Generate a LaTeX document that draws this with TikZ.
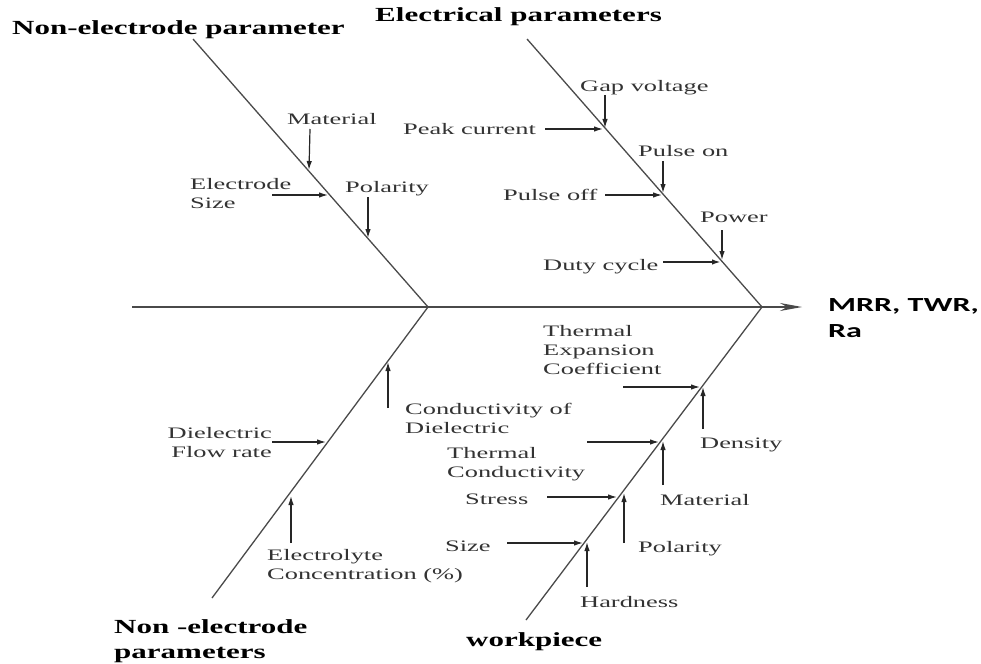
\documentclass[tikz,border=0pt]{standalone}
\usepackage{fontspec}
\setmainfont{Liberation Serif}
\newfontfamily\lblfont[FakeStretch=1.65]{Liberation Serif}
\newfontfamily\headfont[FakeStretch=1.55]{Liberation Serif}
\newfontfamily\outfont[FakeStretch=1.6]{Carlito}
\usetikzlibrary{arrows.meta}
\definecolor{bonegray}{HTML}{4A4A4A}
\definecolor{textgray}{HTML}{333333}

\begin{document}
\begin{tikzpicture}[x=1pt, y=-1pt,
    bone/.style={draw=bonegray, line width=1.3pt},
    cause/.style={draw=black!85, line width=1.2pt, -{Latex[length=9pt,width=5.5pt]}},
    lbl/.style={font=\lblfont\fontsize{16}{19}\selectfont, text=textgray, inner sep=0pt, anchor=north west, align=left},
    head/.style={font=\headfont\bfseries\fontsize{20}{25}\selectfont, inner sep=0pt, anchor=north west, align=left},
]
% 1 unit = 1 px of the 981x663 frame, y going down
\useasboundingbox (0,0) rectangle (981,663);
% Spine and bones
\coordinate (tail) at (132,307); \coordinate (effect) at (802,307);
\coordinate (j1) at (428,307); \coordinate (j2) at (762,307);
\coordinate (ulTop) at (193,39); \coordinate (urTop) at (527,39);
\coordinate (llEnd) at (212,598); \coordinate (lrEnd) at (526,620);
\draw[bone, -{Stealth[length=22pt,width=8pt]}] (tail) -- (effect);
\draw[bone] (ulTop) -- (j1);
\draw[bone] (urTop) -- (j2);
\draw[bone] (j1) -- (llEnd);
\draw[bone] (j2) -- (lrEnd);
% Category titles
\node[head] (nonElecUp) at (12,20) {Non-electrode parameter};
\node[head] (elec) at (375,7) {Electrical parameters};
\node[head] (nonElecLow) at (114,619) {Non -electrode\\parameters};
\node[head] (work) at (466,632) {workpiece};
\node[head, font=\outfont\bfseries\fontsize{20}{26}\selectfont] (out) at (828,298) {MRR, TWR,\\Ra};
% Non-electrode parameter (upper left)
\node[lbl] (matA) at (287,113) {Material};
\node[lbl] (esize) at (190,178) {Electrode\\Size};
\node[lbl] (polA) at (345,181) {Polarity};
\coordinate (matAt) at (310,129); \coordinate (matAh) at (309,170);
\coordinate (esizet) at (272,195); \coordinate (esizeh) at (328,195);
\coordinate (polAt) at (368,197); \coordinate (polAh) at (368,238);
\draw[cause] (matAt) -- (matAh);
\draw[cause] (esizet) -- (esizeh);
\draw[cause] (polAt) -- (polAh);
% Electrical parameters (upper right)
\node[lbl] (gap) at (580,80) {Gap voltage};
\node[lbl] (peak) at (403,123) {Peak current};
\node[lbl] (pon) at (638,145) {Pulse on};
\node[lbl] (poff) at (503,189) {Pulse off};
\node[lbl] (pow) at (700,212) {Power};
\node[lbl] (duty) at (543,259) {Duty cycle};
\coordinate (gapt) at (605,95); \coordinate (gaph) at (605,128);
\coordinate (peakt) at (545,129); \coordinate (peakh) at (603,129);
\coordinate (pont) at (663,161); \coordinate (ponh) at (663,193);
\coordinate (pofft) at (605,195); \coordinate (poffh) at (662,195);
\coordinate (powt) at (722,230); \coordinate (powh) at (722,260);
\coordinate (dutyt) at (663,262); \coordinate (dutyh) at (721,262);
\draw[cause] (gapt) -- (gaph);
\draw[cause] (peakt) -- (peakh);
\draw[cause] (pont) -- (ponh);
\draw[cause] (pofft) -- (poffh);
\draw[cause] (powt) -- (powh);
\draw[cause, line width=2.4pt] (dutyt) -- (dutyh);
% Non -electrode parameters (lower left)
\node[lbl] (cond) at (405,403) {Conductivity of\\Dielectric};
\node[lbl, anchor=north east, align=right] (flow) at (272,427) {Dielectric\\Flow rate};
\node[lbl] (elyte) at (267,549) {Electrolyte\\Concentration (\%)};
\coordinate (condt) at (388,408); \coordinate (condh) at (388,362);
\coordinate (flowt) at (272,442); \coordinate (flowh) at (326,442);
\coordinate (elytet) at (291,543); \coordinate (elyteh) at (291,496);
\draw[cause] (condt) -- (condh);
\draw[cause] (flowt) -- (flowh);
\draw[cause] (elytet) -- (elyteh);
% workpiece (lower right)
\node[lbl] (texp) at (543,325) {Thermal\\Expansion\\Coefficient};
\node[lbl] (dens) at (700,438) {Density};
\node[lbl] (tcond) at (447,447) {Thermal\\Conductivity};
\node[lbl] (matB) at (660,494) {Material};
\node[lbl] (stress) at (465,494) {Stress};
\node[lbl] (polB) at (638,541) {Polarity};
\node[lbl] (size) at (445,541) {Size};
\node[lbl] (hard) at (580,596) {Hardness};
\coordinate (texpt) at (623,387); \coordinate (texph) at (700,387);
\coordinate (denst) at (703,429); \coordinate (densh) at (703,387);
\coordinate (tcondt) at (587,442); \coordinate (tcondh) at (659,442);
\coordinate (matBt) at (663,485); \coordinate (matBh) at (663,441);
\coordinate (stresst) at (547,497); \coordinate (stressh) at (617,497);
\coordinate (polBt) at (624,543); \coordinate (polBh) at (624,493);
\coordinate (sizet) at (507,543); \coordinate (sizeh) at (583,543);
\coordinate (hardt) at (587,587); \coordinate (hardh) at (587,542);
\draw[cause] (texpt) -- (texph);
\draw[cause] (denst) -- (densh);
\draw[cause] (tcondt) -- (tcondh);
\draw[cause] (matBt) -- (matBh);
\draw[cause] (stresst) -- (stressh);
\draw[cause] (polBt) -- (polBh);
\draw[cause] (sizet) -- (sizeh);
\draw[cause] (hardt) -- (hardh);
\end{tikzpicture}
\end{document}
